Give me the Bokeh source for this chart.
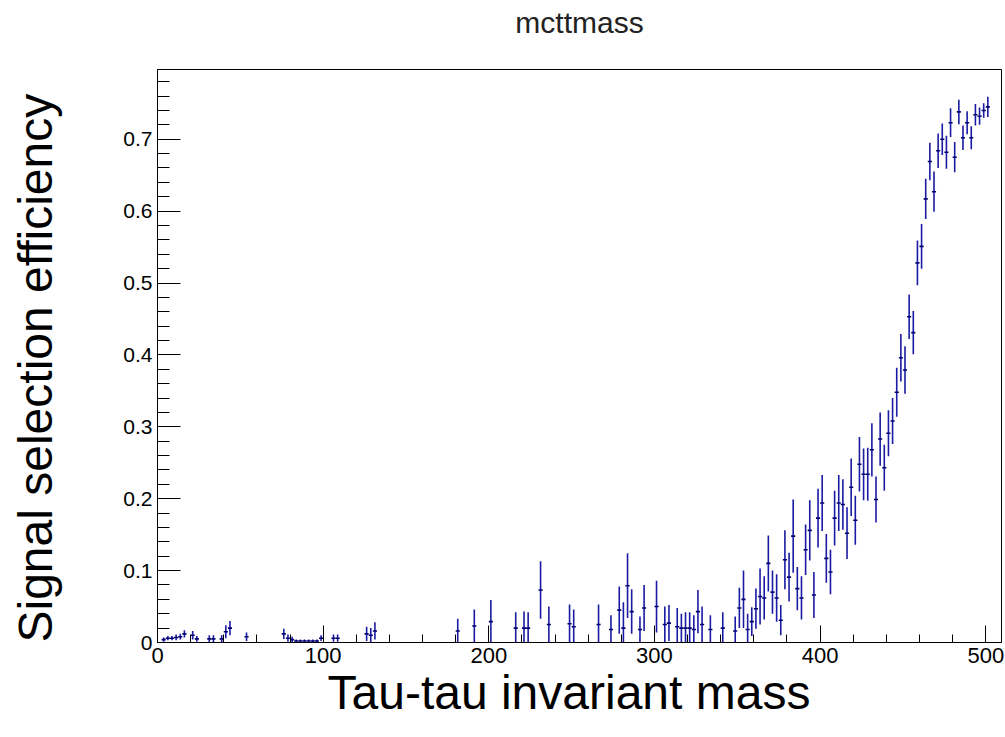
from bokeh.plotting import figure
from bokeh.models import Range1d, SingleIntervalTicker, CustomJSTickFormatter, ColumnDataSource, Title
from bokeh.embed import file_html
from bokeh.resources import INLINE

# Bin centres (Tau-tau invariant mass), efficiency and its error
mass = [3.75, 6.25, 8.75, 11.25, 13.75, 16.25, 21.25, 23.75, 31.25, 33.75,
        38.75, 41.25, 43.75, 53.75, 76.25, 78.75, 81.25, 83.75, 86.25, 88.75,
        91.25, 93.75, 96.25, 98.75, 106.25, 108.75, 126.25, 128.75, 131.25, 181.25,
        191.25, 201.25, 216.25, 221.25, 223.75, 231.25, 236.25, 248.75, 251.25, 266.25,
        273.75, 278.75, 281.25, 283.75, 286.25, 291.25, 293.75, 301.25, 306.25, 308.75,
        313.75, 316.25, 318.75, 321.25, 323.75, 326.25, 328.75, 333.75, 341.25, 348.75,
        351.25, 353.75, 356.25, 358.75, 361.25, 363.75, 366.25, 368.75, 371.25, 373.75,
        376.25, 378.75, 381.25, 383.75, 386.25, 388.75, 391.25, 393.75, 396.25, 398.75,
        401.25, 403.75, 406.25, 408.75, 411.25, 413.75, 416.25, 418.75, 421.25, 423.75,
        426.25, 428.75, 431.25, 433.75, 436.25, 438.75, 441.25, 443.75, 446.25, 448.75,
        451.25, 453.75, 456.25, 458.75, 461.25, 463.75, 466.25, 468.75, 471.25, 473.75,
        476.25, 478.75, 481.25, 483.75, 486.25, 488.75, 491.25, 493.75, 496.25, 498.75,
        501.25]
efficiency = [0.004, 0.006, 0.006, 0.007, 0.008, 0.012, 0.010, 0.005, 0.005, 0.005,
              0.005, 0.015, 0.020, 0.008, 0.012, 0.006, 0.004, 0.002, 0.002, 0.002,
              0.002, 0.002, 0.002, 0.006, 0.006, 0.006, 0.012, 0.010, 0.016, 0.016,
              0.023, 0.029, 0.020, 0.020, 0.020, 0.073, 0.025, 0.026, 0.022, 0.025,
              0.018, 0.045, 0.020, 0.079, 0.043, 0.018, 0.048, 0.050, 0.025, 0.027,
              0.022, 0.020, 0.020, 0.020, 0.018, 0.043, 0.025, 0.018, 0.020, 0.016,
              0.048, 0.060, 0.018, 0.029, 0.047, 0.064, 0.062, 0.110, 0.070, 0.062,
              0.031, 0.115, 0.091, 0.148, 0.075, 0.062, 0.129, 0.156, 0.066, 0.173,
              0.194, 0.117, 0.098, 0.173, 0.194, 0.192, 0.152, 0.216, 0.170, 0.248,
              0.234, 0.234, 0.268, 0.199, 0.283, 0.243, 0.291, 0.308, 0.348, 0.396,
              0.379, 0.453, 0.431, 0.528, 0.551, 0.617, 0.669, 0.627, 0.684, 0.700,
              0.682, 0.723, 0.675, 0.738, 0.702, 0.723, 0.702, 0.734, 0.732, 0.740,
              0.745]
eff_error = [0.003, 0.003, 0.003, 0.004, 0.004, 0.005, 0.006, 0.004, 0.005, 0.005,
             0.005, 0.009, 0.010, 0.006, 0.007, 0.005, 0.004, 0.002, 0.002, 0.002,
             0.002, 0.002, 0.002, 0.004, 0.005, 0.005, 0.010, 0.010, 0.012, 0.017,
             0.023, 0.030, 0.022, 0.023, 0.022, 0.040, 0.025, 0.027, 0.024, 0.028,
             0.020, 0.033, 0.036, 0.045, 0.031, 0.018, 0.032, 0.036, 0.025, 0.025,
             0.026, 0.020, 0.022, 0.022, 0.020, 0.030, 0.025, 0.020, 0.022, 0.020,
             0.028, 0.040, 0.022, 0.020, 0.028, 0.039, 0.030, 0.039, 0.030, 0.033,
             0.021, 0.041, 0.034, 0.051, 0.030, 0.030, 0.035, 0.042, 0.032, 0.041,
             0.039, 0.034, 0.031, 0.038, 0.039, 0.035, 0.036, 0.040, 0.034, 0.038,
             0.036, 0.037, 0.037, 0.032, 0.037, 0.032, 0.032, 0.032, 0.034, 0.033,
             0.033, 0.031, 0.030, 0.031, 0.031, 0.028, 0.026, 0.028, 0.024, 0.022,
             0.023, 0.020, 0.021, 0.017, 0.017, 0.016, 0.016, 0.015, 0.012, 0.010,
             0.014]
bin_half_width = 1.25

title_text = "mcttmass"
x_title = "Tau-tau invariant mass"
y_title = "Signal selection efficiency"

lo = [max(0.0, e - d) for e, d in zip(efficiency, eff_error)]
hi = [e + d for e, d in zip(efficiency, eff_error)]
x0 = [m - bin_half_width for m in mass]
x1 = [m + bin_half_width for m in mass]
src = ColumnDataSource(dict(x=mass, y=efficiency, lo=lo, hi=hi, x0=x0, x1=x1))

FONT = "Liberation Sans"
p = figure(width=1005, height=737, output_backend="svg", toolbar_location=None,
           x_range=Range1d(0, 509.5), y_range=Range1d(0, 0.797),
           min_border_left=157, min_border_right=4, min_border_top=69, min_border_bottom=95)
p.title_location = None
p.background_fill_color = "white"
p.border_fill_color = "white"
p.outline_line_color = "black"
p.outline_line_width = 1
p.xgrid.visible = False
p.ygrid.visible = False

p.segment(x0="x", y0="lo", x1="x", y1="hi", source=src, line_color="#1a1aa4", line_width=1.6)
p.segment(x0="x0", y0="y", x1="x1", y1="y", source=src, line_color="#000070", line_width=1.6)

xa = p.xaxis[0]
xa.ticker = SingleIntervalTicker(interval=100, num_minor_ticks=5)
xa.major_tick_in = 17
xa.major_tick_out = 0
xa.minor_tick_in = 8
xa.minor_tick_out = 0
xa.axis_line_color = "black"
xa.major_tick_line_color = "black"
xa.minor_tick_line_color = "black"
xa.major_label_text_font = FONT
xa.major_label_text_font_size = "22px"
xa.major_label_text_color = "black"
xa.major_label_standoff = 5

ya = p.yaxis[0]
ya.ticker = SingleIntervalTicker(interval=0.1, num_minor_ticks=5)
ya.formatter = CustomJSTickFormatter(code="return String(Math.round(tick*10)/10);")
ya.major_tick_in = 23
ya.major_tick_out = 0
ya.minor_tick_in = 12
ya.minor_tick_out = 0
ya.axis_line_color = "black"
ya.major_tick_line_color = "black"
ya.minor_tick_line_color = "black"
ya.major_label_text_font = FONT
ya.major_label_text_font_size = "21px"
ya.major_label_text_color = "black"
ya.major_label_standoff = 5

# top title (spacer next to the frame, then the title itself)
p.add_layout(Title(text=" ", text_font_size="10px", standoff=18), "above")
p.add_layout(Title(text=title_text, align="center", text_font=FONT, text_font_size="30px",
                   text_font_style="normal", text_color="#222222", standoff=0), "above")

# y axis title
p.add_layout(Title(text=" ", text_font_size="10px", standoff=46), "left")
p.add_layout(Title(text=y_title, align="left", offset=0, text_font=FONT, text_font_size="48px",
                   text_font_style="normal", text_color="black", standoff=0), "left")

# x axis title
p.add_layout(Title(text=x_title, align="left", offset=170, vertical_align="top", text_font=FONT,
                   text_font_size="48px", text_font_style="normal", text_color="black",
                   standoff=0), "below")

open("out.html", "w").write(file_html(p, INLINE))
